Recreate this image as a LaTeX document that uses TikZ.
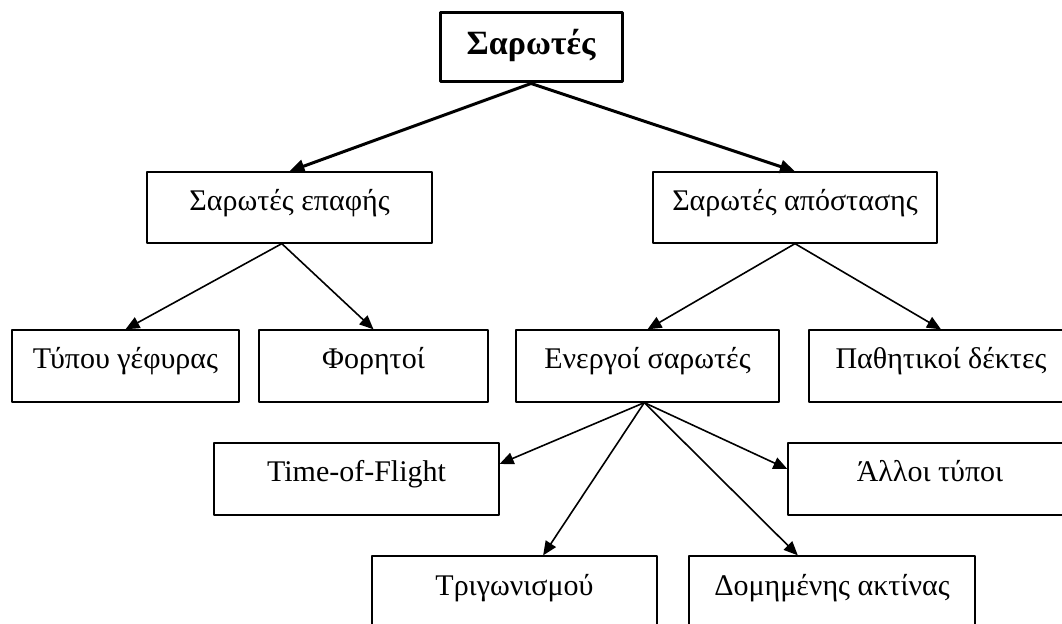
\documentclass[tikz,border=0pt]{standalone}
\usepackage{fontspec}
\setmainfont{Liberation Serif}
\usetikzlibrary{arrows.meta}
\tikzset{
  box/.style={draw, line width=1.3bp, minimum height=72bp, inner sep=0pt,
    text height=20bp, text depth=14bp, font=\fontsize{30bp}{36bp}\selectfont},
  rootbox/.style={box, line width=3bp, minimum height=69bp,
    text height=24bp, text depth=9bp, font=\fontsize{34bp}{40bp}\selectfont\bfseries},
  link/.style={line width=1.6bp, -{Triangle[length=14bp,width=12bp]}},
  rootlink/.style={line width=3bp, -{Triangle[length=15bp,width=13bp]}}
}
\begin{document}
\begin{tikzpicture}[line join=bevel]
\useasboundingbox (0bp,0bp) rectangle (1062bp,624bp);
\clip (0bp,0bp) rectangle (1062bp,624bp);
%%
\node (1) at (531bp,576.5bp) [rootbox, minimum width=182bp] {Σαρωτές};
  \node (2) at (289.5bp,416.5bp) [box, minimum width=285bp, minimum height=71bp] {Σαρωτές επαφής};
  \node (3) at (795bp,416.5bp) [box, minimum width=284bp, minimum height=71bp] {Σαρωτές απόστασης};
  \node (4) at (125.5bp,258bp) [box, minimum width=227bp] {Τύπου γέφυρας};
  \node (5) at (373.5bp,258bp) [box, minimum width=229bp] {Φορητοί};
  \node (6) at (647.5bp,258bp) [box, minimum width=263bp] {Ενεργοί σαρωτές};
  \node (7) at (941bp,258bp) [box, minimum width=264bp] {Παθητικοί δέκτες};
  \node (8) at (356.5bp,145bp) [box, minimum width=285bp] {Time-of-Flight};
  \node (9) at (930bp,145bp) [box, minimum width=284bp] {Άλλοι τύποι};
  \node (10) at (514.5bp,32bp) [box, minimum width=285bp] {Τριγωνισμού};
  \node (11) at (832bp,32bp) [box, minimum width=286bp] {Δομημένης ακτίνας};
  \draw [rootlink] (1.south) -- (2.north);
  \draw [rootlink] (1.south) -- (3.north);
  \draw [link] (2.258) -- (4.north);
  \draw [link] (2.258) -- (5.north);
  \draw [link] (3.south) -- (6.north);
  \draw [link] (3.south) -- (7.north);
  \draw [link] (6.265) -- (8.6);
  \draw [link] (6.265) -- (9.176);
  \draw [link] (6.265) -- (10.52);
  \draw [link] (6.265) -- (11.133);
%
\end{tikzpicture}
\end{document}
